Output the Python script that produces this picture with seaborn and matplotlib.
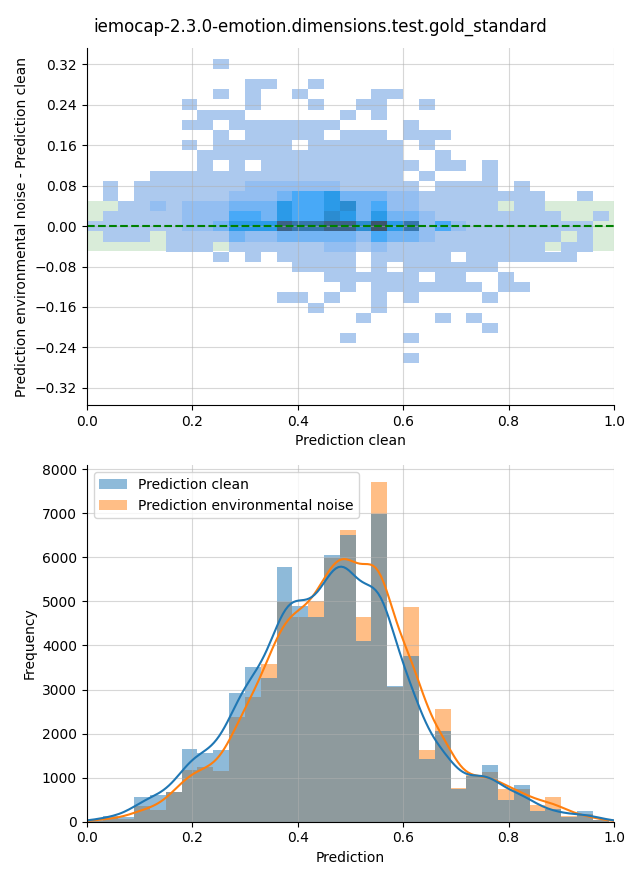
import numpy as np
import pandas as pd
import seaborn as sns
import matplotlib.pyplot as plt

title = "iemocap-2.3.0-emotion.dimensions.test.gold_standard"
series_names = ["Prediction clean", "Prediction environmental noise"]

# shared prediction bins (width 0.03)
x_edges = np.round(np.arange(0, 1.0, 0.03), 2)
# difference bins (width ~0.0201)
y_edges = np.linspace(-0.2719, 0.3311, 31)

# 2d histogram cells, top row first, one char per x bin ('.' = empty, 1..9 = shade level)
diff_rows = [
    "........1." ".........." ".........." "...",
    ".........." ".........." ".........." "...",
    ".........." "11..1....." ".........." "...",
    "........1." "1..1....11" ".........." "...",
    "......1..." "1...1..11." ".1........" "...",
    ".......111" "......1.1." ".........." "...",
    "......11.1" "111111...." "1........." "...",
    "........1." "11111.111." "111......." "...",
    "......1.11" "111.111111" ".1........" "...",
    ".......111" "1111111111" "..1......." "...",
    ".......1.1" ".111111111" "1.11.1...." "...",
    "....111111" "1111111111" ".1...1...." "...",
    ".1.1111111" "2222221111" "1.1111.1.." "...",
    ".1.1111112" "2234453332" "211111111." ".1.",
    "..11212223" "3354456342" "211111.11." "...",
    ".111112224" "4354465353" "3211111111" "..1",
    "1111112235" "5587788695" "7242111111" "11.",
    ".111.11113" "2233333243" "3211111111" ".1.",
    ".....111.1" "1111122121" "111111111." "11.",
    "........1." "1.11111.11" "111.111111" "1..",
    ".........." "...1111.1." "111111...." "...",
    ".........." ".....11111" "1.11..1..." "...",
    ".........." "......1.11" "11111.11.." "...",
    ".........." "..11.1..1." "1....1...." "...",
    ".........." "....1...1." ".........." "...",
    ".........." ".......1.." "..1.1....." "...",
    ".........." ".........." ".....1...." "...",
    ".........." "......1..." "1........." "...",
    ".........." ".........." ".........." "...",
    ".........." ".........." "1........." "...",
]
level_counts = {"1": 10, "2": 400, "3": 800, "4": 1200, "5": 1700,
                "6": 2200, "7": 2900, "8": 3600, "9": 4100}

# 1d histogram counts per bin
clean_counts = [30, 140, 110, 560, 600, 680, 1646, 1555, 1624, 2918, 3509,
                3260, 5780, 4890, 4650, 6050, 6500, 4100, 6990, 3080, 3760,
                1420, 2055, 740, 1040, 1290, 490, 830, 240, 300, 100, 240, 50]
noise_counts = [20, 90, 60, 350, 260, 680, 1170, 1245, 1147, 2381, 2835,
                3580, 4990, 4650, 5010, 5990, 6620, 4640, 7710, 3060, 4870,
                1620, 2555, 760, 1065, 1120, 745, 740, 370, 555, 140, 165, 30]

x_centers = (x_edges[:-1] + x_edges[1:]) / 2
y_centers = (y_edges[:-1] + y_edges[1:]) / 2

xs, ys, ws = [], [], []
for r, row in enumerate(diff_rows):
    yc = y_centers[len(y_centers) - 1 - r]
    for c, ch in enumerate(row[:len(x_centers)]):
        if ch != ".":
            xs.append(x_centers[c])
            ys.append(yc)
            ws.append(level_counts[ch])

df_hist = pd.DataFrame({
    "Prediction": np.concatenate([x_centers, x_centers]),
    "count": clean_counts + noise_counts,
    "series": [series_names[0]] * len(x_centers) + [series_names[1]] * len(x_centers),
})

fig, (ax1, ax2) = plt.subplots(2, 1, figsize=(6.4, 8.8))

ax1.axhspan(-0.05, 0.05, color="green", alpha=0.15, zorder=0, lw=0)
sns.histplot(x=xs, y=ys, weights=ws, bins=[x_edges.tolist(), y_edges.tolist()], ax=ax1)
ax1.axhline(0, color="green", linestyle="--", linewidth=1.5)
ax1.set_xlim(0, 1)
ax1.set_ylim(-0.354, 0.352)
ax1.set_yticks(np.round(np.arange(-0.32, 0.33, 0.08), 2))
ax1.set_xlabel("Prediction clean")
ax1.set_ylabel("Prediction environmental noise - Prediction clean")
ax1.grid(alpha=0.5)

sns.histplot(data=df_hist, x="Prediction", weights="count", hue="series",
             bins=x_edges.tolist(), kde=True, linewidth=0,
             kde_kws={"bw_adjust": 0.32, "cut": 1, "clip": (0, 1)},
             line_kws={"linewidth": 1.5}, ax=ax2)
ax2.set_xlim(0, 1)
ax2.set_ylabel("Frequency")
ax2.grid(alpha=0.5)
sns.move_legend(ax2, "upper left", title=None)

sns.despine(fig)
fig.suptitle(title)
plt.tight_layout()
plt.savefig("out.png", dpi=100)
